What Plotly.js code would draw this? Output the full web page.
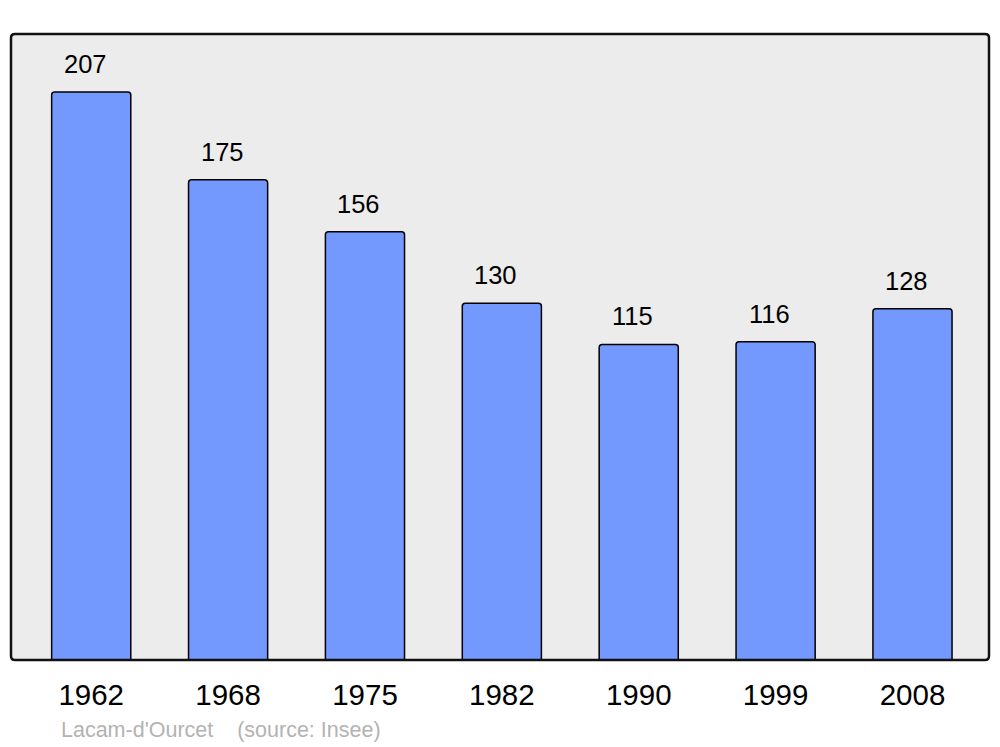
<!DOCTYPE html>
<html><head><meta charset="utf-8">
<script src="https://cdn.plot.ly/plotly-3.0.1.min.js"></script>
<style>html,body{margin:0;padding:0;background:#fff;}#chart{width:1000px;height:747px;}</style>
</head><body><div id="chart"></div>
<script>
const years = ['1962','1968','1975','1982','1990','1999','2008'];
const population = [207,175,156,130,115,116,128];
const sourceText = "Lacam-d'Ourcet\u00a0\u00a0\u00a0\u00a0(source: Insee)";

const W = 1000, H = 747;
const m = {l: 11, r: 11, t: 34, b: 87};
const pw = W - m.l - m.r, ph = H - m.t - m.b;
const rx = 4 / pw, ry = 4 / ph;
const framePath = `M ${rx} 0 L ${1-rx} 0 Q 1 0 1 ${ry} L 1 ${1-ry} Q 1 1 ${1-rx} 1 L ${rx} 1 Q 0 1 0 ${1-ry} L 0 ${ry} Q 0 0 ${rx} 0 Z`;

const annotations = years.map((y, i) => ({
  x: i, y: population[i], xref: 'x', yref: 'y',
  text: String(population[i]), showarrow: false,
  yanchor: 'middle', yshift: 28, xshift: -6,
  font: {family: 'Liberation Sans, Arial, sans-serif', size: 25.5, color: '#000'}
}));
annotations.push({
  xref: 'paper', yref: 'paper', x: (59 - m.l) / pw, y: -(730 - (m.t + ph)) / ph,
  xanchor: 'left', yanchor: 'middle', showarrow: false, text: sourceText,
  font: {family: 'Liberation Sans, Arial, sans-serif', size: 21.5, color: '#b3b3b3'}
});

Plotly.newPlot('chart', [{
  type: 'bar', x: years, y: population, width: 0.578,
  marker: {color: '#7399ff', line: {color: '#000', width: 1.5}, cornerradius: 3},
  hoverinfo: 'none'
}], {
  width: W, height: H, margin: m,
  paper_bgcolor: '#fff', plot_bgcolor: '#ececec',
  showlegend: false,
  xaxis: {type: 'category', range: [-0.586, 6.559], showgrid: false, zeroline: false,
    showline: false, ticks: '', ticklabelstandoff: 14,
    tickfont: {family: 'Liberation Sans, Arial, sans-serif', size: 29.5, color: '#000'}},
  yaxis: {range: [0, 228.1], showgrid: false, zeroline: false, showline: false,
    showticklabels: false, ticks: ''},
  shapes: [{type: 'path', xref: 'paper', yref: 'paper', path: framePath,
    line: {color: '#111', width: 2.5}, fillcolor: 'rgba(0,0,0,0)', layer: 'above'}],
  annotations: annotations
}, {staticPlot: true});
</script></body></html>
